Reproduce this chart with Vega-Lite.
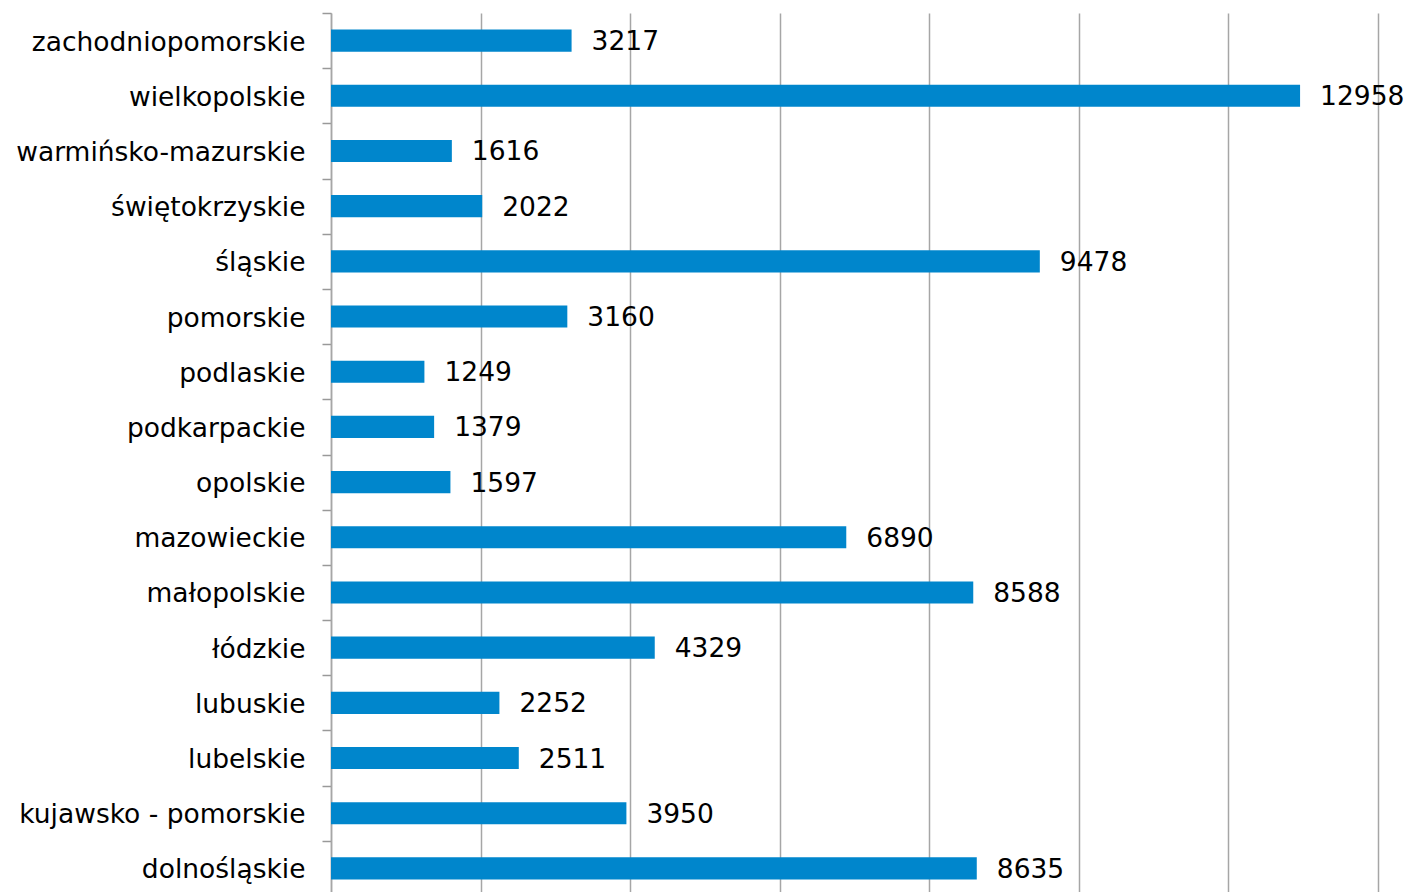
{
  "$schema": "https://vega.github.io/schema/vega-lite/v6.json",
  "width": 1047,
  "height": 883,
  "autosize": {"type": "none"},
  "padding": {"left": 331, "top": 13, "right": 28, "bottom": 0},
  "background": "white",
  "config": {
    "view": {"stroke": null},
    "font": "DejaVu Sans"
  },
  "data": {
    "values": [
      {"region": "zachodniopomorskie", "value": 3217},
      {"region": "wielkopolskie", "value": 12958},
      {"region": "warmińsko-mazurskie", "value": 1616},
      {"region": "świętokrzyskie", "value": 2022},
      {"region": "śląskie", "value": 9478},
      {"region": "pomorskie", "value": 3160},
      {"region": "podlaskie", "value": 1249},
      {"region": "podkarpackie", "value": 1379},
      {"region": "opolskie", "value": 1597},
      {"region": "mazowieckie", "value": 6890},
      {"region": "małopolskie", "value": 8588},
      {"region": "łódzkie", "value": 4329},
      {"region": "lubuskie", "value": 2252},
      {"region": "lubelskie", "value": 2511},
      {"region": "kujawsko - pomorskie", "value": 3950},
      {"region": "dolnośląskie", "value": 8635}
    ]
  },
  "encoding": {
    "y": {
      "field": "region",
      "type": "nominal",
      "sort": null,
      "scale": {"paddingInner": 0, "paddingOuter": 0},
      "axis": {
        "title": null,
        "tickBand": "extent",
        "ticks": true,
        "tickSize": 9,
        "tickColor": "#999999",
        "tickWidth": 1.5,
        "domainColor": "#a6a6a6",
        "domainWidth": 1.5,
        "labelFont": "DejaVu Sans",
        "labelFontSize": 26.5,
        "labelColor": "#000000",
        "labelPadding": 17,
        "labelOffset": 1.5,
        "labelLimit": 400,
        "grid": false
      }
    },
    "x": {
      "field": "value",
      "type": "quantitative",
      "scale": {"domain": [0, 14000], "nice": false},
      "axis": {
        "title": null,
        "labels": false,
        "ticks": false,
        "domain": false,
        "grid": true,
        "values": [0, 2000, 4000, 6000, 8000, 10000, 12000, 14000],
        "gridColor": "#a6a6a6",
        "gridWidth": 1.5
      }
    }
  },
  "layer": [
    {"mark": {"type": "bar", "color": "#0086cc", "height": {"band": 0.4}}},
    {
      "mark": {"type": "text", "align": "left", "baseline": "middle", "dx": 20, "dy": 1.5, "font": "DejaVu Sans", "fontSize": 26.5, "color": "#000000"},
      "encoding": {"text": {"field": "value", "type": "quantitative", "format": "d"}}
    }
  ]
}
